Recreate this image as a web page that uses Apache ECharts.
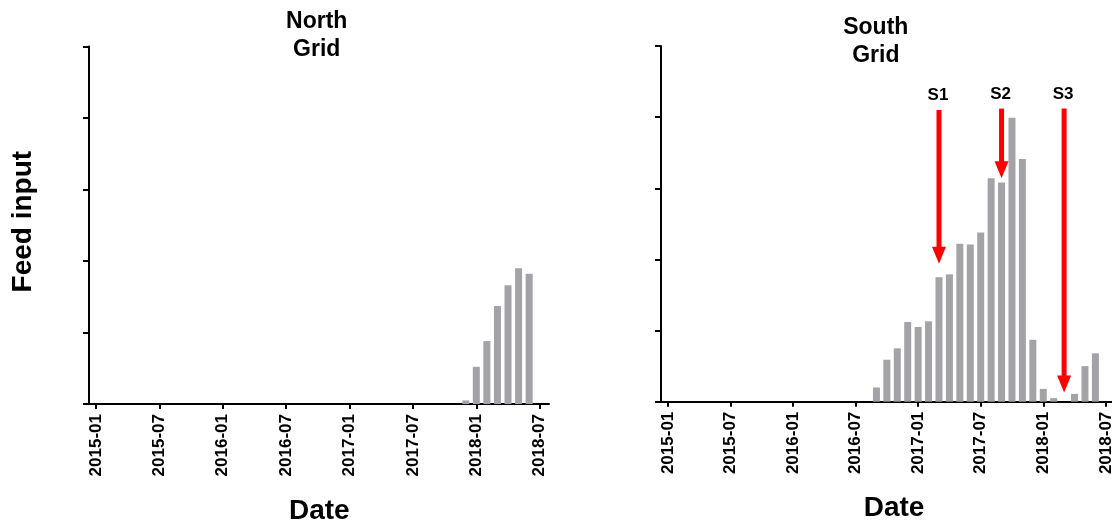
<!DOCTYPE html>
<html>
<head>
<meta charset="utf-8">
<script src="https://cdn.jsdelivr.net/npm/echarts@6/dist/echarts.min.js"></script>
<style>
  html, body { margin: 0; padding: 0; background: #fff; }
  #chart { width: 1112px; height: 532px; }
</style>
</head>
<body>
<div id="chart"></div>
<script>
// Tick labels on the date axes (half-yearly)
const tickLabels = ['2015-01', '2015-07', '2016-01', '2016-07', '2017-01', '2017-07', '2018-01', '2018-07'];

// North grid monthly feed input
const northMonths = ['2017-12', '2018-01', '2018-02', '2018-03', '2018-04', '2018-05', '2018-06'];
const northValues = [5, 52, 88, 137, 166, 190, 182];

// South grid monthly feed input
const southMonths = ['2016-09', '2016-10', '2016-11', '2016-12', '2017-01', '2017-02', '2017-03', '2017-04',
  '2017-05', '2017-06', '2017-07', '2017-08', '2017-09', '2017-10', '2017-11', '2017-12',
  '2018-01', '2018-02', '2018-03', '2018-04', '2018-05', '2018-06'];
const southValues = [20, 59, 75, 112, 105, 113, 175, 179,
  222, 221, 238, 314, 308, 399, 341, 87,
  18, 5, 0, 11, 50, 68];

// Sampling events marked with arrows on the South grid
const arrowLabels = ['S1', 'S2', 'S3'];
const arrowMonths = ['2017-03', '2017-09', '2018-03'];
const arrowFrom = [410, 412, 412];
const arrowTo = [194, 314, 13];

// Month label -> index counted from 2015-01
const monthIndex = s => (Number(s.slice(0, 4)) - 2015) * 12 + Number(s.slice(5, 7)) - 1;
const tickValues = tickLabels.map(monthIndex);

const FONT = '"Liberation Sans", Arial, Helvetica, sans-serif';
const BAR_COLOR = '#a3a3a7';

function xAxisFor(gridIndex) {
  return {
    type: 'value', gridIndex,
    min: -0.66, max: 42.88,
    axisLine: { show: true, onZero: false, lineStyle: { color: '#000', width: 2 } },
    axisTick: { show: true, customValues: tickValues, length: 5, lineStyle: { color: '#000', width: 2 } },
    axisLabel: {
      show: true, customValues: tickValues, rotate: 90, margin: 10,
      color: '#000', fontFamily: FONT, fontWeight: 'bold', fontSize: 17,
      formatter: v => tickLabels[tickValues.indexOf(Math.round(v))] || ''
    },
    splitLine: { show: false }
  };
}

function yAxisFor(gridIndex) {
  return {
    type: 'value', gridIndex,
    min: 0, max: 500, interval: 100,
    axisLine: { show: true, onZero: false, lineStyle: { color: '#000', width: 2 } },
    axisTick: { show: true, length: 6, lineStyle: { color: '#000', width: 2 } },
    axisLabel: { show: false },
    splitLine: { show: false }
  };
}

const chart = echarts.init(document.getElementById('chart'), null, { renderer: 'canvas' });

chart.setOption({
  animation: false,
  backgroundColor: '#fff',
  grid: [
    { left: 89, top: 46.5, width: 460, height: 357.5, outerBoundsMode: 'none', containLabel: false },
    { left: 661, top: 46, width: 454, height: 355.7, outerBoundsMode: 'none', containLabel: false }
  ],
  xAxis: [xAxisFor(0), xAxisFor(1)],
  yAxis: [yAxisFor(0), yAxisFor(1)],
  graphic: [
    {
      type: 'text', x: 316.7, y: 35.7,
      style: { text: 'North\nGrid', font: 'bold 23px ' + FONT, fill: '#000', align: 'center', verticalAlign: 'middle', lineHeight: 28 }
    },
    {
      type: 'text', x: 875.8, y: 42.1,
      style: { text: 'South\nGrid', font: 'bold 23px ' + FONT, fill: '#000', align: 'center', verticalAlign: 'middle', lineHeight: 28 }
    },
    {
      type: 'text', x: 23.6, y: 221.7, rotation: Math.PI / 2,
      style: { text: 'Feed input', font: 'bold 28px ' + FONT, fill: '#000', align: 'center', verticalAlign: 'middle' }
    },
    {
      type: 'text', x: 319.3, y: 511,
      style: { text: 'Date', font: 'bold 28px ' + FONT, fill: '#000', align: 'center', verticalAlign: 'middle' }
    },
    {
      type: 'text', x: 894, y: 508.6,
      style: { text: 'Date', font: 'bold 28px ' + FONT, fill: '#000', align: 'center', verticalAlign: 'middle' }
    }
  ],
  series: [
    {
      name: 'North Grid', type: 'bar', xAxisIndex: 0, yAxisIndex: 0,
      barWidth: 7,
      itemStyle: { color: BAR_COLOR },
      data: northMonths.map((m, i) => [monthIndex(m), northValues[i]])
    },
    {
      name: 'South Grid', type: 'bar', xAxisIndex: 1, yAxisIndex: 1,
      barWidth: 7,
      itemStyle: { color: BAR_COLOR },
      data: southMonths.map((m, i) => [monthIndex(m), southValues[i]])
    },
    {
      name: 'Events', type: 'custom', xAxisIndex: 1, yAxisIndex: 1,
      z: 5,
      data: arrowMonths.map((m, i) => [monthIndex(m), arrowFrom[i], arrowTo[i]]),
      renderItem: function (params, api) {
        const x = api.value(0);
        const start = api.coord([x, api.value(1)]);
        const tip = api.coord([x, api.value(2)]);
        const headH = 17, headW = 14, shaftW = 5;
        const cx = start[0];
        return {
          type: 'group',
          children: [
            {
              type: 'rect',
              shape: { x: cx - shaftW / 2, y: start[1], width: shaftW, height: tip[1] - headH - start[1] + 1 },
              style: { fill: '#ff0000' }
            },
            {
              type: 'polygon',
              shape: { points: [[cx - headW / 2, tip[1] - headH], [cx + headW / 2, tip[1] - headH], [cx, tip[1]]] },
              style: { fill: '#ff0000' }
            },
            {
              type: 'text',
              x: cx - 1, y: start[1] - 6,
              style: { text: arrowLabels[params.dataIndex], font: 'bold 17px ' + FONT, fill: '#000', align: 'center', verticalAlign: 'bottom' }
            }
          ]
        };
      }
    }
  ]
});
</script>
</body>
</html>
